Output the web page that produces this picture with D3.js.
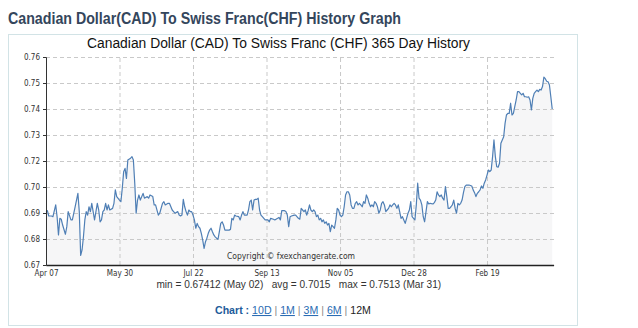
<!DOCTYPE html>
<html><head><meta charset="utf-8">
<script src="https://cdn.jsdelivr.net/npm/d3@7"></script>
<style>
body{margin:0;background:#fff;}
svg{display:block;}
</style>
</head><body>
<svg id="c" width="638" height="328"></svg>
<script>
// ---------- DATA ----------
const startDate = "2023-04-07";
const dayOffsets = [0,1,2,4,5,7,8,9,10,11,12,14,15,16,18,19,21,23,24,25,26,27,28,29,30,31,32,33,35,36,37,38,39,40,41,42,43,44,45,46,48,49,50,51,53,54,55,56,57,58,59,61,62,63,64,65,66,67,68,70,71,73,74,75,77,78,79,81,82,84,85,86,88,89,91,92,
93,95,96,97,98,99,100,101,102,103,104,105,106,107,108,109,110,111,112,113,114,115,116,117,118,119,120,121,122,123,124,125,126,127,128,129,131,132,133,134,135,136,137,139,140,141,142,143,145,146,147,148,149,150,151,152,153,154,155,156,158,159,160,161,162,164,165,167,168,169,170,172,173,174,175,176,177,179,180,182,183,
184,185,186,187,188,189,190,191,192,193,194,195,196,197,198,199,200,201,202,203,204,205,206,207,208,209,210,211,212,213,214,215,216,217,218,219,220,221,222,223,224,225,226,227,228,229,230,231,232,233,234,235,236,237,238,239,240,241,242,243,244,245,246,247,248,249,250,251,252,253,254,255,256,257,258,259,260,261,262,263,264,265,266,267,268,269,270,271,272,273,274,
275,276,277,279,280,281,282,283,284,285,286,287,288,289,290,291,292,293,294,295,296,297,298,299,300,301,302,303,304,305,307,308,309,310,311,312,313,314,315,316,317,318,319,320,321,322,323,324,325,326,327,328,329,330,331,332,333,334,335,336,337,338,339,340,341,342,343,344,345,346,347,348,349,350,351,352,353,354,355,356,357,358,359,360,361,362,363,364,365];
const rates = [0.6931,0.6935,0.6912,0.6912,0.6909,0.6960,0.6909,0.6830,0.6902,0.6898,0.6873,0.6833,0.6866,0.6931,0.6895,0.6895,0.6952,0.7010,0.6931,0.67412,0.6765,0.6822,0.6895,0.6931,0.6916,0.6952,0.6931,0.6967,0.6895,0.6931,0.6967,0.6938,0.6887,0.6895,0.6931,0.6938,0.6967,0.6938,0.6960,0.6938,0.6945,0.6967,0.7025,0.6996,0.6981,0.6974,0.7032,0.7104,0.7118,0.7075,0.7154,0.7162,0.7169,0.7154,0.7054,0.6924,0.6981,0.7003,0.6981,0.7010,0.6989,0.6996,0.6989,0.7003,0.6996,0.6960,0.6960,0.6916,0.6924,0.6967,0.6974,0.6960,0.6967,0.6967,0.6938,0.6931,
0.6924,0.6931,0.6916,0.6912,0.6916,0.6984,0.6952,0.6931,0.6916,0.6938,0.6931,0.6931,0.6916,0.6895,0.6859,0.6880,0.6866,0.6859,0.6837,0.6808,0.6772,0.6801,0.6816,0.6837,0.6851,0.6859,0.6844,0.6830,0.6822,0.6816,0.6811,0.6844,0.6880,0.6887,0.6873,0.6851,0.6851,0.6851,0.6854,0.6902,0.6895,0.6916,0.6912,0.6909,0.6895,0.6916,0.6931,0.6916,0.6916,0.6938,0.6974,0.6981,0.6938,0.6981,0.6984,0.6984,0.6989,0.6938,0.6916,0.6909,0.6895,0.6895,0.6895,0.6887,0.6902,0.6898,0.6895,0.6902,0.6906,0.6895,0.6935,0.6935,0.6931,0.6916,0.6866,0.6909,0.6912,0.6916,0.6916,0.6902,0.6898,
0.6945,0.6938,0.6931,0.6938,0.6916,0.6935,0.6960,0.6938,0.6931,0.6938,0.6931,0.6909,0.6916,0.6895,0.6902,0.6887,0.6895,0.6880,0.6887,0.6873,0.6880,0.6844,0.6873,0.6866,0.6859,0.6895,0.6945,0.6938,0.6916,0.6909,0.6916,0.6952,0.7003,0.7017,0.7017,0.7003,0.6960,0.6945,0.6945,0.6967,0.6974,0.6960,0.6967,0.6960,0.6952,0.6974,0.6967,0.7003,0.6989,0.6967,0.6952,0.6960,0.6952,0.6974,0.6967,0.6952,0.6924,0.6938,0.6967,0.6974,0.6960,0.6931,0.6938,0.6945,0.6960,0.6952,0.6960,0.6967,0.6960,0.6945,0.6960,0.6931,0.6902,0.6909,0.6895,0.6880,0.6902,0.6924,0.6938,0.6974,0.6909,0.6902,0.6895,0.6960,0.7054,0.6989,0.6981,0.6960,0.6909,0.6887,0.6931,
0.6974,0.6964,0.6967,0.6964,0.6970,0.6981,0.7017,0.7003,0.6996,0.7003,0.6989,0.6981,0.7039,0.6996,0.6945,0.6945,0.6952,0.6960,0.6981,0.6945,0.6924,0.6967,0.6960,0.6967,0.6981,0.7013,0.7039,0.7046,0.7046,0.7046,0.7042,0.7025,0.7013,0.6996,0.7010,0.7017,0.7025,0.7042,0.7032,0.7054,0.7068,0.7089,0.7111,0.7104,0.7111,0.7169,0.7241,0.7169,0.7125,0.7123,0.7140,0.7227,0.7241,0.7255,0.7313,0.7349,0.7356,0.7356,0.7400,0.7349,0.7356,0.7385,0.7414,0.7450,0.7450,0.7443,0.7436,0.7443,0.7428,0.7428,0.7426,0.7428,0.7414,0.7371,0.7421,0.7443,0.7450,0.7457,0.7450,0.7460,0.7457,0.7472,0.7513,0.7506,0.7495,0.7493,0.7479,0.7428,0.7375];
const domainDays = 366;
const xTickDates = ["2023-04-07","2023-05-30","2023-07-22","2023-09-13","2023-11-05","2023-12-28","2024-02-19"];
const xTickLabels = ["Apr 07","May 30","Jul 22","Sep 13","Nov 05","Dec 28","Feb 19"];
const yDomain = [0.67, 0.76];
const yTickValues = [0.67,0.68125,0.6925,0.70375,0.715,0.72625,0.7375,0.74875,0.76];
const yTickLabels = ["0.67","0.68","0.69","0.70","0.72","0.73","0.74","0.75","0.76"];
const pageTitle = "Canadian Dollar(CAD) To Swiss Franc(CHF) History Graph";
const chartTitle = "Canadian Dollar (CAD) To Swiss Franc (CHF) 365 Day History";
const statParts = ["min = 0.67412 (May 02)", "avg = 0.7015", "max = 0.7513 (Mar 31)"];
const periods = ["10D","1M","3M","6M","12M"];
const copyright = "Copyright \u00A9 fxexchangerate.com";

// ---------- DRAW ----------
const parse = d3.utcParse("%Y-%m-%d");
const start = parse(startDate);
const data = dayOffsets.map((d,i)=>({date:d3.utcDay.offset(start,d), v:rates[i]}));

const L=46, R=553.6, T=57, B=265, GRIDR=555;
const x = d3.scaleUtc().domain([start, d3.utcDay.offset(start, domainDays)]).range([L, R]);
const y = d3.scaleLinear().domain(yDomain).range([B, T]);

const svg = d3.select("#c");
svg.append("rect").attr("width",638).attr("height",328).attr("fill","#fff");

const sans = "'Liberation Sans', Arial, Helvetica, sans-serif";
const cond = "'DejaVu Sans Condensed','Liberation Sans Narrow','Open Sans',sans-serif";

// page title
svg.append("text").attr("x",8).attr("y",24)
  .attr("font-family",sans).attr("font-weight","bold").attr("font-size",16)
  .attr("fill","#34465c").attr("textLength",393).attr("lengthAdjust","spacingAndGlyphs")
  .text(pageTitle);

// box
svg.append("rect").attr("x",8.5).attr("y",34.5).attr("width",569).attr("height",291)
  .attr("fill","none").attr("stroke","#d2e3e6").attr("stroke-width",1);

// chart title
svg.append("text").attr("x",87).attr("y",48)
  .attr("font-family",sans).attr("font-size",14).attr("fill","#111")
  .attr("textLength",383).attr("lengthAdjust","spacingAndGlyphs")
  .text(chartTitle);

// area
const area = d3.area().x(d=>x(d.date)).y0(B).y1(d=>y(d.v));
svg.append("path").datum(data).attr("d",area).attr("fill","#f6f6f7");

// horizontal grid
const gy = svg.append("g").attr("transform",`translate(${L},0)`)
  .call(d3.axisRight(y).tickValues(yTickValues.slice(1)).tickSize(GRIDR-L).tickFormat(""));
gy.select(".domain").remove();
gy.selectAll("line").attr("stroke","#c9c9c9").attr("stroke-dasharray","4,3");

// vertical grid
const gx = svg.append("g").attr("transform",`translate(0,${B})`)
  .call(d3.axisTop(x).tickValues(xTickDates.slice(1).map(parse)).tickSize(B-T).tickFormat(""));
gx.select(".domain").remove();
gx.selectAll("line").attr("stroke","#c9c9c9").attr("stroke-dasharray","4,3");

// line
const line = d3.line().x(d=>x(d.date)).y(d=>y(d.v));
svg.append("path").datum(data).attr("d",line)
  .attr("fill","none").attr("stroke","#4f7fb5").attr("stroke-width",1.2).attr("stroke-linejoin","round");

// y axis
const ya = svg.append("g").attr("transform",`translate(${L},0)`)
  .call(d3.axisLeft(y).tickValues(yTickValues).tickSize(3).tickPadding(3)
    .tickFormat((d,i)=>yTickLabels[i]));
ya.select(".domain").attr("stroke","#333");
ya.selectAll("line").attr("stroke","#333");
ya.selectAll("text").attr("font-family",cond).attr("font-size",8).attr("fill","#333");

// x axis
const xa = svg.append("g").attr("transform",`translate(0,${B})`)
  .call(d3.axisBottom(x).tickValues(xTickDates.map(parse)).tickSize(0).tickPadding(5)
    .tickFormat((d,i)=>xTickLabels[i]));
xa.select(".domain").attr("stroke","#222").attr("stroke-width",1.4);
xa.selectAll("text").attr("font-family",cond).attr("font-size",8).attr("fill","#333");

// copyright
svg.append("text").attr("x",227).attr("y",259)
  .attr("font-family",cond).attr("font-size",9.5).attr("fill","#333")
  .attr("textLength",128).attr("lengthAdjust","spacingAndGlyphs").text(copyright);

// stats: one line, preserved spacing, centred
svg.append("text").attr("x",298.8).attr("y",287.5).attr("text-anchor","middle")
  .attr("font-family",sans).attr("font-size",10.1).attr("fill","#333")
  .style("white-space","pre").attr("xml:space","preserve")
  .text(statParts.join("   "));

// chart period links (pieces laid out by measured widths)
let cx = 215;
const pieces = [{t:"Chart",bold:true,fill:"#1d5b9a"},{t:" : ",bold:true,fill:"#1d5b9a"}];
periods.forEach((p,i)=>{
  const last = i===periods.length-1;
  pieces.push({t:p, fill:last?"#222":"#2b6cb3", u:!last});
  if(!last) pieces.push({t:" | ", fill:"#888"});
});
pieces.forEach(p=>{
  const t = svg.append("text").attr("x",cx).attr("y",314)
    .attr("font-family",sans).attr("font-size",10.6)
    .attr("font-weight",p.bold?"bold":"normal").attr("fill",p.fill)
    .style("white-space","pre").attr("xml:space","preserve")
    .attr("text-decoration",p.u?"underline":null).text(p.t);
  cx += t.node().getComputedTextLength();
});
</script>
</body></html>
